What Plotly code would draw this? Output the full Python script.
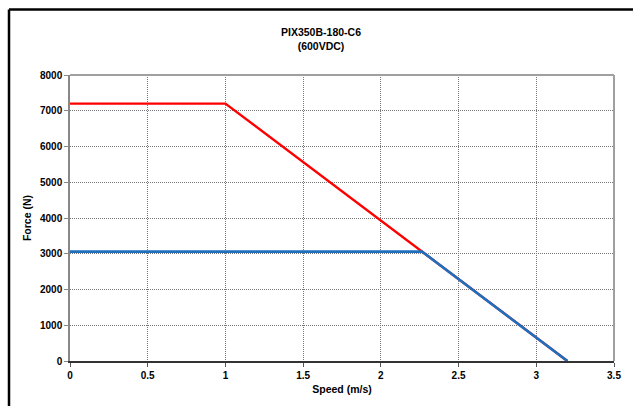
import plotly.graph_objects as go

# data
peak_speed = [0, 1, 3.2]
peak_force = [7200, 7200, 0]
cont_speed = [0, 2.265, 3.2]
cont_force = [3060, 3060, 0]

x_ticks = [0, 0.5, 1, 1.5, 2, 2.5, 3, 3.5]
x_labels = ["0", "0.5", "1", "1.5", "2", "2.5", "3", "3.5"]
y_ticks = [0, 1000, 2000, 3000, 4000, 5000, 6000, 7000, 8000]

W, H = 633, 407
L, R, T, B = 70, 614, 75, 361

fig = go.Figure()
fig.add_trace(go.Scatter(x=peak_speed, y=peak_force, mode="lines",
                         line=dict(color="#ff0000", width=2.4), showlegend=False))
fig.add_trace(go.Scatter(x=cont_speed, y=cont_force, mode="lines",
                         line=dict(color="#1f6fbf", width=2.6), showlegend=False))

font = dict(family="Liberation Sans, Arial, sans-serif", size=10, color="black")

fig.update_layout(
    width=W, height=H,
    margin=dict(l=L, r=W - R, t=T, b=H - B),
    paper_bgcolor="white", plot_bgcolor="white",
    font=font,
    title=dict(text="<b>PIX350B-180-C6<br>(600VDC)</b>", x=321 / W, xanchor="center",
               y=1 - 36 / H, yanchor="top", font=dict(size=10.5)),
    xaxis=dict(range=[0, 3.5], tickvals=x_ticks, ticktext=["<b>%s</b>" % t for t in x_labels],
               showgrid=True, gridcolor="#777", griddash="1px,1px", gridwidth=1,
               showline=True, linecolor="#333", linewidth=1.5,
               ticks="outside", ticklen=4, tickcolor="#555",
               title=dict(text="<b>Speed (m/s)</b>", standoff=6, font=dict(size=10.5)),
               zeroline=False),
    yaxis=dict(range=[0, 8000], tickvals=y_ticks, ticktext=["<b>%d</b>" % v for v in y_ticks],
               showgrid=True, gridcolor="#777", griddash="1px,1px", gridwidth=1,
               showline=True, linecolor="#888", linewidth=1.5,
               ticks="outside", ticklen=4, tickcolor="#888",
               title=dict(text="<b>Force (N)</b>", standoff=6, font=dict(size=10.5)),
               zeroline=False),
)

# light gray top and right edges of the plot area
fig.add_shape(type="line", xref="paper", yref="paper", x0=0, x1=1, y0=1, y1=1,
              line=dict(color="#a0a0a0", width=2))
fig.add_shape(type="line", xref="paper", yref="paper", x0=1, x1=1, y0=0, y1=1,
              line=dict(color="#a0a0a0", width=2))

# black frame around the chart (only top and left fall inside the image)
pw, ph = R - L, B - T
fx0 = (9 - L) / pw
fy1 = (B - 9.5) / ph
fig.add_shape(type="line", xref="paper", yref="paper", x0=fx0, x1=(W + 5 - L) / pw, y0=fy1, y1=fy1,
              line=dict(color="black", width=2.5))
fig.add_shape(type="line", xref="paper", yref="paper", x0=fx0, x1=fx0, y0=fy1, y1=(B - H + 1) / ph,
              line=dict(color="black", width=2.5))

fig.write_html("out.html", config={"displayModeBar": False},
               post_script="document.body.style.margin='0';")
